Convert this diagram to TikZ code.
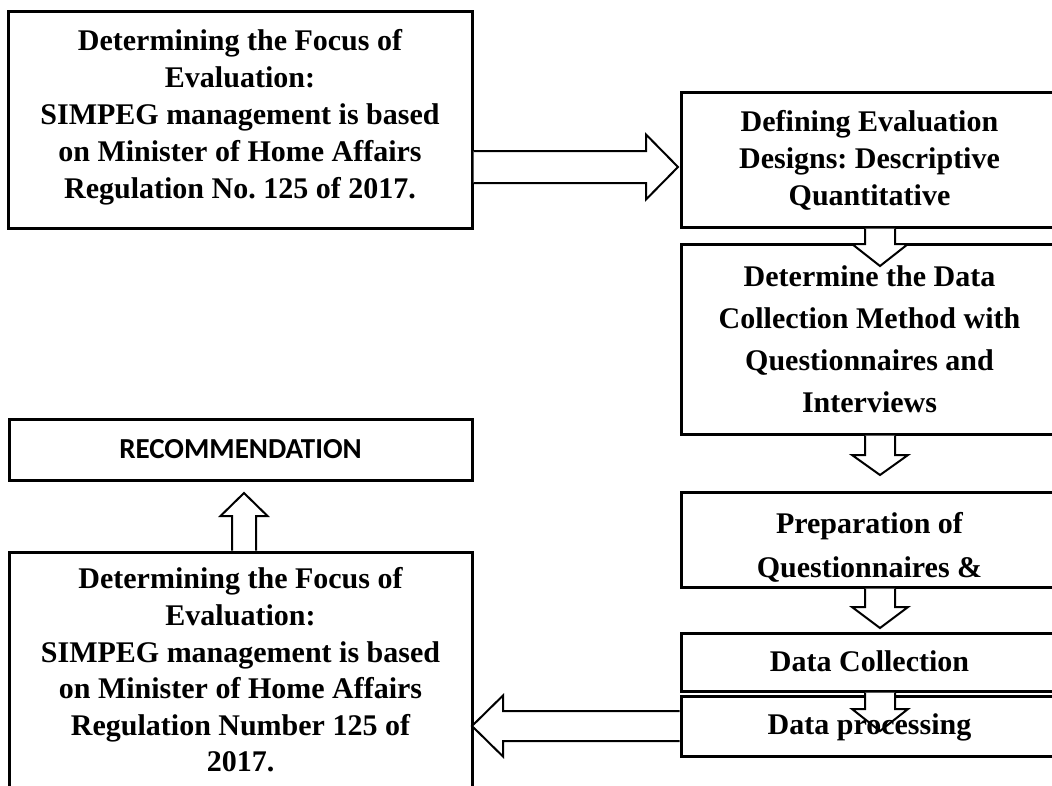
\documentclass[tikz,border=0pt]{standalone}
\usepackage{fontspec}
\setmainfont{Liberation Serif}
\newfontfamily\calibfont{Carlito}
\usetikzlibrary{calc}
\pgfdeclarelayer{framelayer}
\pgfdeclarelayer{arrowlayer}
\pgfsetlayers{framelayer,arrowlayer,main}
\frenchspacing
\newcommand\boxtext[3]{\raisebox{#1}[\height][\depth]{\fontsize{30}{#2}\selectfont\bfseries\begin{tabular}{@{}c@{}}#3\end{tabular}}}
\tikzset{
  box/.style={rectangle, inner sep=0pt, outer sep=0pt, anchor=north west},
  frame/.style={draw=black, line width=3pt},
  barrow/.style={draw=black, fill=white, line width=2pt, line join=miter},
}
\begin{document}
\begin{tikzpicture}[x=1pt,y=-1pt]
\useasboundingbox (0,0) rectangle (1052,785);
\clip (0,0) rectangle (1052,785);
% boxes (text)
\node[box, minimum width=464pt, minimum height=217pt] (A) at (8,11)
  {\boxtext{2pt}{37pt}{Determining the Focus of\\Evaluation:\\SIMPEG management is based\\on Minister of Home Affairs\\Regulation No. 125 of 2017.}};
\node[box, minimum width=377pt, minimum height=135pt] (B) at (681,92)
  {\boxtext{-2pt}{37pt}{Defining Evaluation\\Designs: Descriptive\\Quantitative}};
\node[box, minimum width=377pt, minimum height=190pt] (C) at (681,244)
  {\boxtext{-2pt}{42pt}{Determine the Data\\Collection Method with\\Questionnaires and\\Interviews}};
\node[box, minimum width=377pt, minimum height=95pt] (D) at (681,492)
  {\boxtext{-7pt}{44pt}{Preparation of\\Questionnaires \&}};
\node[box, minimum width=377pt, minimum height=58pt] (E) at (681,633)
  {\boxtext{-2pt}{37pt}{Data Collection}};
\node[box, minimum width=377pt, minimum height=60pt] (F) at (681,696)
  {\boxtext{-1pt}{37pt}{Data processing}};
\node[box, minimum width=463pt, minimum height=61pt] (R) at (9,419)
  {\calibfont\bfseries\fontsize{29}{34}\selectfont RECOMMENDATION};
\node[box, minimum width=463pt, minimum height=242pt] (G) at (9,552)
  {\boxtext{0pt}{36.6pt}{Determining the Focus of\\Evaluation:\\SIMPEG management is based\\on Minister of Home Affairs\\Regulation Number 125 of\\2017.}};
% frames
\begin{pgfonlayer}{framelayer}
  \foreach \n in {A,B,C,D,E,F,R,G}
    \draw[frame] (\n.north west) rectangle (\n.south east);
\end{pgfonlayer}
% arrows
\coordinate (ax) at (880,0);
\coordinate (ay) at (0,167);
\coordinate (fy) at (0,726);
\coordinate (gx) at (244,0);
\begin{pgfonlayer}{arrowlayer}
  % A -> B
  \draw[barrow] ($(A.east |- ay)+(1.5,-16)$) -- ($(B.west |- ay)+(-35,-16)$) -- ($(B.west |- ay)+(-35,-32.5)$)
    -- ($(B.west |- ay)+(-3,0)$) -- ($(B.west |- ay)+(-35,32.5)$) -- ($(B.west |- ay)+(-35,16)$) -- ($(A.east |- ay)+(1.5,16)$);
  % B -> C
  \draw[barrow] ($(ax |- B.south)+(-15,1.5)$) -- ($(ax |- C.north)+(-15,0)$) -- ($(ax |- C.north)+(-28,0)$)
    -- ($(ax |- C.north)+(0,22)$) -- ($(ax |- C.north)+(28,0)$) -- ($(ax |- C.north)+(15,0)$) -- ($(ax |- B.south)+(15,1.5)$);
  % C -> D
  \draw[barrow] ($(ax |- C.south)+(-15,1.5)$) -- ($(ax |- C.south)+(-15,21)$) -- ($(ax |- C.south)+(-28,21)$)
    -- ($(ax |- C.south)+(0,41)$) -- ($(ax |- C.south)+(28,21)$) -- ($(ax |- C.south)+(15,21)$) -- ($(ax |- C.south)+(15,1.5)$);
  % D -> E
  \draw[barrow] ($(ax |- D.south)+(-15,1.5)$) -- ($(ax |- D.south)+(-15,20)$) -- ($(ax |- D.south)+(-28,20)$)
    -- ($(ax |- D.south)+(0,41)$) -- ($(ax |- D.south)+(28,20)$) -- ($(ax |- D.south)+(15,20)$) -- ($(ax |- D.south)+(15,1.5)$);
  % E -> F
  \draw[barrow] ($(ax |- E.south)+(-15,1.5)$) -- ($(ax |- E.south)+(-15,18)$) -- ($(ax |- E.south)+(-28,18)$)
    -- ($(ax |- E.south)+(0,40)$) -- ($(ax |- E.south)+(28,18)$) -- ($(ax |- E.south)+(15,18)$) -- ($(ax |- E.south)+(15,1.5)$);
  % F -> G
  \draw[barrow] ($(F.west |- fy)+(-1.5,-15)$) -- ($(G.east |- fy)+(31,-15)$) -- ($(G.east |- fy)+(31,-30.5)$)
    -- (G.east |- fy) -- ($(G.east |- fy)+(31,30.5)$) -- ($(G.east |- fy)+(31,15)$) -- ($(F.west |- fy)+(-1.5,15)$);
  % G -> R
  \draw[barrow] ($(gx |- G.north)+(-12,-1.5)$) -- ($(gx |- R.south)+(-12,36)$) -- ($(gx |- R.south)+(-23.5,36)$)
    -- ($(gx |- R.south)+(0,13)$) -- ($(gx |- R.south)+(23.5,36)$) -- ($(gx |- R.south)+(12,36)$) -- ($(gx |- G.north)+(12,-1.5)$);
\end{pgfonlayer}
\end{tikzpicture}
\end{document}
